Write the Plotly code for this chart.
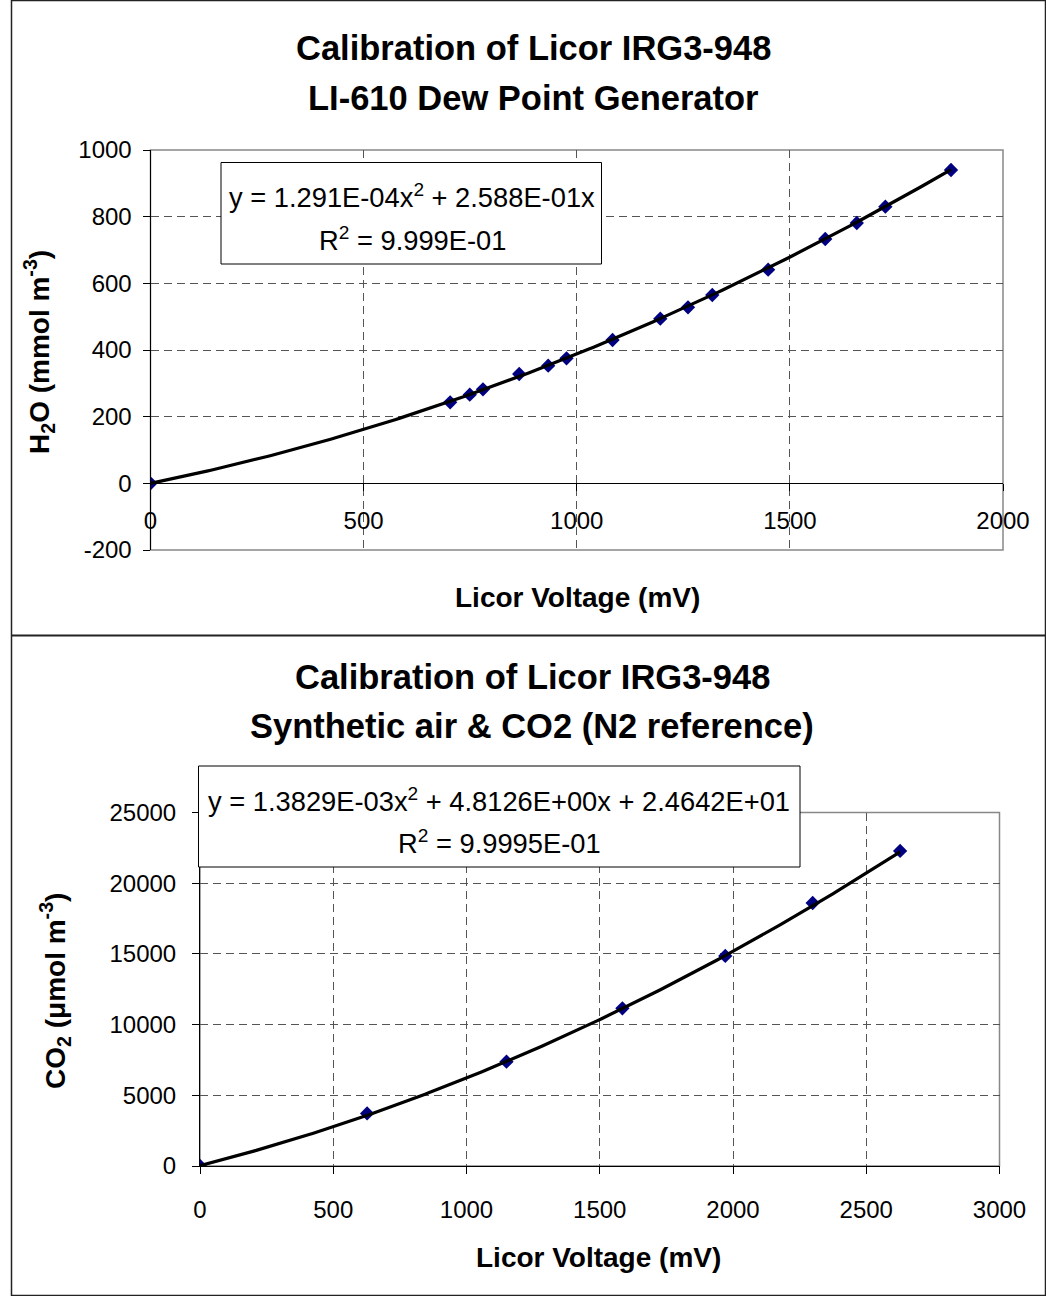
import numpy as np
import plotly.graph_objects as go

W, H = 1046, 1296
FONT = "Arial, Liberation Sans, sans-serif"

# ---------------- data ----------------
h2o_voltage = [0, 703, 749, 780, 865, 933, 976, 1084, 1196, 1261, 1318, 1449, 1583, 1657, 1724, 1878]
h2o_conc = [0, 243, 266, 282, 328, 353, 375, 430, 494, 528, 565, 641, 733, 781, 830, 940]
h2o_fit_coef = [1.291e-4, 2.588e-1, 0.0]  # printed trendline equation
h2o_eq_text = "y = 1.291E-04x<sup>2</sup> + 2.588E-01x"
h2o_r2_text = "R<sup>2</sup> = 9.999E-01"

co2_voltage = [0, 627, 1150, 1585, 1971, 2299, 2627]
co2_conc = [0, 3720, 7380, 11150, 14860, 18600, 22280]
co2_fit_coef = [1.3829e-3, 4.8126, 24.642]  # printed trendline equation
co2_eq_text = "y = 1.3829E-03x<sup>2</sup> + 4.8126E+00x + 2.4642E+01"
co2_r2_text = "R<sup>2</sup> = 9.9995E-01"

h2o_xticks = [0, 500, 1000, 1500, 2000]
h2o_yticks = [-200, 0, 200, 400, 600, 800, 1000]
co2_xticks = [0, 500, 1000, 1500, 2000, 2500, 3000]
co2_yticks = [0, 5000, 10000, 15000, 20000, 25000]

title1 = ["Calibration of Licor IRG3-948", "LI-610 Dew Point Generator"]
title2 = ["Calibration of Licor IRG3-948", "Synthetic air &amp; CO2 (N2 reference)"]
xtitle = "Licor Voltage (mV)"
ytitle1 = "H<sub>2</sub>O (mmol m<sup>-3</sup>)"
ytitle2 = "CO<sub>2</sub> (μmol m<sup>-3</sup>)"


def px(x):
    return x / W


def py(y):
    return 1 - y / H


# trendline curves from the printed equations
h2o_fx = np.linspace(0, max(h2o_voltage), 200)
h2o_fy = np.polyval(h2o_fit_coef, h2o_fx)
co2_fx = np.linspace(0, max(co2_voltage), 200)
co2_fy = np.polyval(co2_fit_coef, co2_fx)

fig = go.Figure()

marker = dict(symbol="diamond", size=11, color="#000080", line=dict(width=0))
line = dict(color="black", width=3.2)

fig.add_trace(go.Scatter(x=h2o_voltage, y=h2o_conc, mode="markers", marker=marker,
                         xaxis="x", yaxis="y", showlegend=False))
fig.add_trace(go.Scatter(x=h2o_fx, y=h2o_fy, mode="lines", line=line,
                         xaxis="x", yaxis="y", showlegend=False, hoverinfo="skip"))
fig.add_trace(go.Scatter(x=co2_voltage, y=co2_conc, mode="markers", marker=marker,
                         xaxis="x2", yaxis="y2", showlegend=False))
fig.add_trace(go.Scatter(x=co2_fx, y=co2_fy, mode="lines", line=line,
                         xaxis="x2", yaxis="y2", showlegend=False, hoverinfo="skip"))

grid = dict(showgrid=True, gridcolor="#555555", gridwidth=1, griddash="8px,5px",
            zeroline=False, showline=True, linecolor="black", linewidth=1,
            ticks="outside", tickcolor="black", ticklen=7, automargin=False,
            tickfont=dict(family=FONT, size=24, color="black"))


def ticks(vals):
    return dict(tickmode="array", tickvals=vals, ticktext=[str(v) for v in vals])


# top plot area (pixels): x 150.5..1003, y 150..550
top_ydom = [py(550), py(150)]
zero_pos = top_ydom[0] + (0 - (-200)) / 1200 * (top_ydom[1] - top_ydom[0])

fig.update_layout(
    width=W, height=H,
    margin=dict(l=0, r=0, t=0, b=0),
    paper_bgcolor="white", plot_bgcolor="white",
    xaxis=dict(domain=[px(150.5), px(1003)], range=[0, 2000], **ticks(h2o_xticks),
               anchor="free", position=zero_pos, ticklabelstandoff=9, **grid),
    yaxis=dict(domain=top_ydom, range=[-200, 1000], **ticks(h2o_yticks),
               anchor="x", ticklabelstandoff=6, **grid),
    xaxis2=dict(domain=[px(200), px(999.5)], range=[0, 3000], **ticks(co2_xticks),
                anchor="y2", ticklabelstandoff=15, **grid),
    yaxis2=dict(domain=[py(1166), py(812.5)], range=[0, 25000], **ticks(co2_yticks),
                anchor="x2", ticklabelstandoff=11, **grid),
)

shapes = []
# plot-area borders (gray), drawn above gridlines but under traces
shapes.append(dict(type="rect", xref="paper", yref="paper", layer="between",
                   x0=px(150.5), x1=px(1003), y0=py(550), y1=py(150),
                   line=dict(color="#888888", width=1.5)))
shapes.append(dict(type="rect", xref="paper", yref="paper", layer="between",
                   x0=px(200), x1=px(999.5), y0=py(1166), y1=py(812.5),
                   line=dict(color="#888888", width=1.5)))
# chart-area frames
shapes.append(dict(type="rect", xref="paper", yref="paper", layer="above",
                   x0=px(11.5), x1=px(1045.5), y0=py(1295.5), y1=py(0.5),
                   line=dict(color="#222222", width=1.5)))
shapes.append(dict(type="line", xref="paper", yref="paper", layer="above",
                   x0=px(11.5), x1=px(1046), y0=py(635.5), y1=py(635.5),
                   line=dict(color="#222222", width=2)))
# equation boxes
shapes.append(dict(type="rect", xref="paper", yref="paper", layer="above",
                   x0=px(221), x1=px(601.5), y0=py(264), y1=py(162.5),
                   fillcolor="white", line=dict(color="black", width=1)))
shapes.append(dict(type="rect", xref="paper", yref="paper", layer="above",
                   x0=px(198.5), x1=px(800), y0=py(867), y1=py(766),
                   fillcolor="white", line=dict(color="black", width=1)))

fig.update_layout(shapes=shapes)

ann = []


def text(t, x, y, size, bold=False, angle=0):
    ann.append(dict(text=f"<b>{t}</b>" if bold else t, xref="paper", yref="paper",
                    x=px(x), y=py(y), xanchor="center", yanchor="middle",
                    showarrow=False, textangle=angle,
                    font=dict(family=FONT, size=size, color="black")))


# titles
text(title1[0], 533, 48, 34.5, bold=True)
text(title1[1], 533, 97.5, 34.5, bold=True)
text(title2[0], 532, 677, 34.5, bold=True)
text(title2[1], 532, 726, 34.5, bold=True)
# axis titles
text(xtitle, 577, 598, 28, bold=True)
text(xtitle, 598, 1257, 28, bold=True)
text(ytitle1, 39, 352, 28, bold=True, angle=-90)
text(ytitle2, 55, 991, 28, bold=True, angle=-90)
# equations
text(h2o_eq_text, 412, 196, 27.3)
text(h2o_r2_text, 412, 239, 27.3)
text(co2_eq_text, 499, 800, 27.3)
text(co2_r2_text, 499, 842, 27.3)

fig.update_layout(annotations=ann)

fig.write_html("out.html")
